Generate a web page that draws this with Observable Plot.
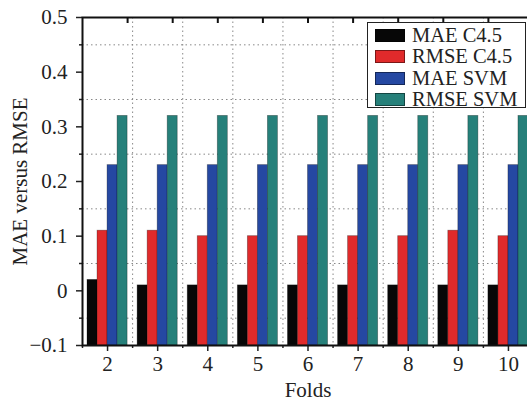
<!DOCTYPE html>
<html>
<head>
<meta charset="utf-8">
<script src="https://cdn.jsdelivr.net/npm/d3@7"></script>
<script src="https://cdn.jsdelivr.net/npm/@observablehq/plot@0.6"></script>
<style>
  html, body { margin: 0; padding: 0; background: #fff; }
  #wrap { position: relative; width: 527px; height: 401px; overflow: hidden; }
  #legend {
    position: absolute; left: 367px; top: 22px; width: 159px; height: 86px;
    border: 1.5px solid #222; background: #fff; box-sizing: border-box;
    font-family: "Liberation Serif", "Times New Roman", serif; font-size: 20.5px; color: #222;
  }
  .row { position: absolute; left: 7px; height: 21px; line-height: 21px; display: flex; align-items: center; white-space: nowrap; }
  .sw { width: 30px; height: 13px; box-sizing: border-box; border: 1px solid rgba(0,0,0,0.45); margin-right: 7px; }
</style>
</head>
<body>
<div id="wrap"><div id="chart"></div><div id="legend"></div></div>
<script>
const folds = [2, 3, 4, 5, 6, 7, 8, 9, 10];
const maeC45 = [0.02, 0.01, 0.01, 0.01, 0.01, 0.01, 0.01, 0.01, 0.01];
const rmseC45 = [0.11, 0.11, 0.10, 0.10, 0.10, 0.10, 0.10, 0.11, 0.10];
const maeSVM = [0.23, 0.23, 0.23, 0.23, 0.23, 0.23, 0.23, 0.23, 0.23];
const rmseSVM = [0.32, 0.32, 0.32, 0.32, 0.32, 0.32, 0.32, 0.32, 0.32];
const seriesNames = ["MAE C4.5", "RMSE C4.5", "MAE SVM", "RMSE SVM"];
const seriesColors = ["#070707", "#e02a2b", "#2548a2", "#26807a"];
const yTicks = [-0.1, 0, 0.1, 0.2, 0.3, 0.4, 0.5];
const yMinorTicks = [-0.05, 0.05, 0.15, 0.25, 0.35, 0.45];
const xMinorTicks = [1.5, 2.5, 3.5, 4.5, 5.5, 6.5, 7.5, 8.5, 9.5];
const xTitle = "Folds";
const yTitle = "MAE versus RMSE";

const seriesValues = [maeC45, rmseC45, maeSVM, rmseSVM];
const data = [];
seriesValues.forEach((vals, si) => {
  vals.forEach((v, fi) => data.push({fold: folds[fi], series: seriesNames[si], si, value: v}));
});
// 4 bars per fold, each 0.2 wide, group spans fold-0.4..fold+0.4
const barW = 0.2;
const topTicks = d3.range(1, 10).map(k => 1.5 + 0.9 * k);

const font = '"Liberation Serif", "Times New Roman", serif';
const chart = Plot.plot({
  width: 527,
  height: 401,
  marginLeft: 82,
  marginTop: 17,
  marginBottom: 56,
  marginRight: -6,
  style: {fontFamily: font, fontSize: "21px", color: "#222", background: "#fff"},
  x: {domain: [1.5, 10.5]},
  y: {domain: [-0.1, 0.5]},
  color: {domain: seriesNames, range: seriesColors},
  marks: [
    Plot.gridY(yMinorTicks, {stroke: "#888", strokeOpacity: 1, strokeDasharray: "1.5,3"}),
    Plot.gridX(xMinorTicks.slice(1), {stroke: "#888", strokeOpacity: 1, strokeDasharray: "1.5,3"}),
    Plot.rectY(data, {
      x1: d => d.fold - 0.4 + barW * d.si,
      x2: d => d.fold - 0.4 + barW * (d.si + 1),
      y1: -0.1,
      y2: "value",
      fill: "series",
      stroke: "#000",
      strokeOpacity: 0.35,
      strokeWidth: 0.8
    }),
    Plot.axisY(yTicks, {tickSize: 6, tickPadding: 9, tickFormat: d => d3.format(".1~f")(d).replace("-", "\u2212"), label: null, strokeWidth: 1.5, color: "#222"}),
    Plot.axisY(yMinorTicks, {tickSize: 3, tickFormat: () => "", label: null, strokeWidth: 1.5}),
    Plot.axisX(folds, {tickSize: 6, tickPadding: 5, tickFormat: d => String(d), label: null, strokeWidth: 1.5, color: "#222"}),
    Plot.axisX(xMinorTicks, {tickSize: 3, tickFormat: () => "", label: null, strokeWidth: 1.5}),
    Plot.tickX(topTicks, {x: d => d, insetBottom: 322, stroke: "#111", strokeWidth: 2}),
    Plot.frame({stroke: "#111", strokeWidth: 2}),
    Plot.text([xTitle], {text: d => d, frameAnchor: "bottom", lineAnchor: "middle", dy: 45, fill: "#222"}),
    Plot.text([yTitle], {text: d => d, frameAnchor: "left", textAnchor: "middle", lineAnchor: "middle", rotate: -90, dx: -62, fill: "#222"})
  ]
});
document.getElementById("chart").appendChild(chart);

const legend = document.getElementById("legend");
seriesNames.forEach((name, i) => {
  const row = document.createElement("div");
  row.className = "row";
  row.style.top = (2 + i * 21.3) + "px";
  const sw = document.createElement("div");
  sw.className = "sw";
  sw.style.background = seriesColors[i];
  const t = document.createElement("span");
  t.textContent = name;
  row.appendChild(sw); row.appendChild(t);
  legend.appendChild(row);
});
</script>
</body>
</html>
